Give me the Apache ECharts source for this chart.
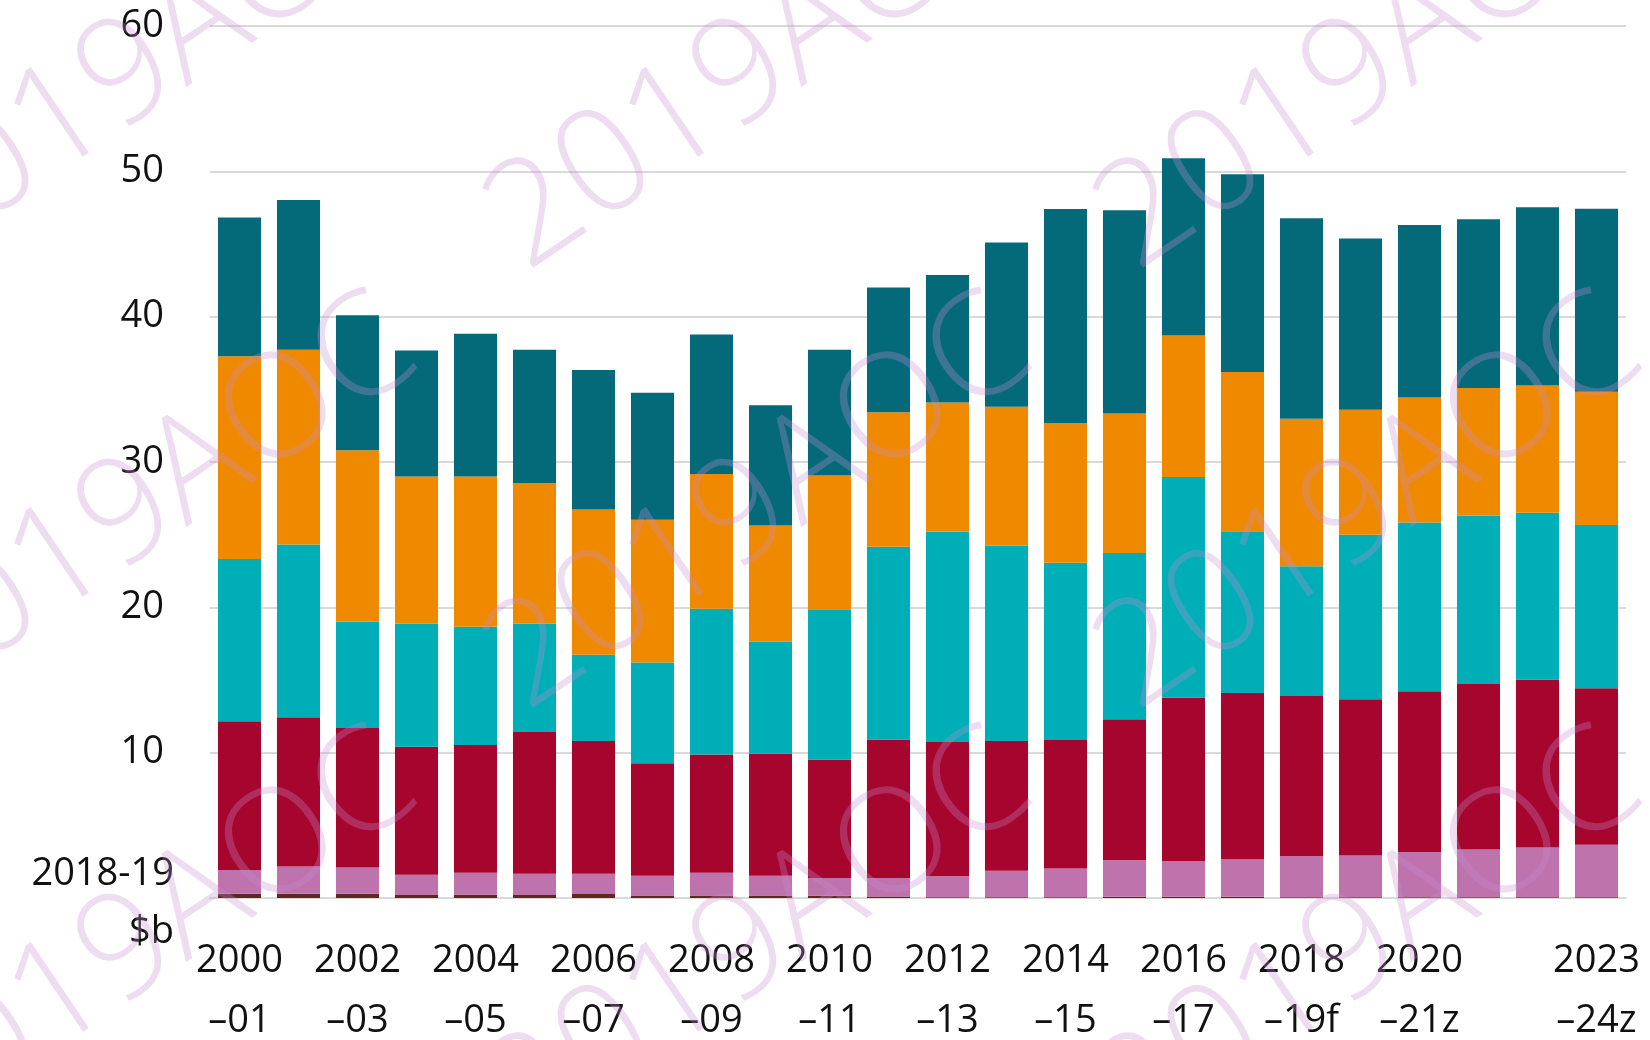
<!DOCTYPE html>
<html>
<head>
<meta charset="utf-8">
<script src="https://cdn.jsdelivr.net/npm/echarts@6/dist/echarts.min.js"></script>
<style>
  html, body { margin: 0; padding: 0; background: #fff; }
  #chart { width: 1650px; height: 1040px; }
</style>
</head>
<body>
<div id="chart"></div>
<script>
// financial years, 2000-01 to 2023-24 (f = forecast, z = projection)
const categories = [
  '2000\n–01', '2001\n–02', '2002\n–03', '2003\n–04', '2004\n–05', '2005\n–06',
  '2006\n–07', '2007\n–08', '2008\n–09', '2009\n–10', '2010\n–11', '2011\n–12',
  '2012\n–13', '2013\n–14', '2014\n–15', '2015\n–16', '2016\n–17', '2017\n–18',
  '2018\n–19f', '2019\n–20', '2020\n–21z', '2021\n–22z', '2022\n–23z', '2023\n–24z'
]

// $b, 2018-19 prices, stacked bottom to top
const brownData = [0.3, 0.3, 0.3, 0.2, 0.22, 0.2, 0.28, 0.18, 0.18, 0.18, 0.15, 0.1,
  0.05, 0.05, 0.05, 0.08, 0.08, 0.08, 0.06, 0.06, 0.06, 0.06, 0.06, 0.06]
const pinkData = [1.63, 1.87, 1.8, 1.4, 1.51, 1.47, 1.39, 1.35, 1.55, 1.35, 1.22, 1.27,
  1.45, 1.82, 1.98, 2.52, 2.45, 2.59, 2.81, 2.87, 3.11, 3.27, 3.41, 3.61]
const redData = [10.24, 10.26, 9.6, 8.8, 8.8, 9.76, 9.13, 7.74, 8.14, 8.4, 8.16, 9.53,
  9.23, 8.93, 8.84, 9.7, 11.27, 11.43, 11.03, 10.74, 11.06, 11.4, 11.56, 10.76]
const tealData = [11.16, 11.9, 7.3, 8.47, 8.14, 7.44, 5.93, 6.93, 10.03, 7.7, 10.34, 13.27,
  14.47, 13.43, 12.2, 11.43, 15.17, 11.13, 8.93, 11.33, 11.6, 11.57, 11.47, 11.24]
const orangeData = [13.94, 13.4, 11.8, 10.13, 10.33, 9.66, 10.0, 9.83, 9.27, 8.0, 9.2, 9.26,
  8.9, 9.57, 9.6, 9.6, 9.73, 10.97, 10.14, 8.6, 8.6, 8.8, 8.77, 9.16]
const darkTealData = [9.56, 10.3, 9.3, 8.67, 9.83, 9.2, 9.6, 8.74, 9.6, 8.27, 8.66, 8.57,
  8.77, 11.3, 14.73, 14.0, 12.2, 13.6, 13.8, 11.77, 11.87, 11.6, 12.26, 12.6]

const yTicks = [0, 10, 20, 30, 40, 50, 60]

const FONT = '"Open Sans", "Liberation Sans", sans-serif'

const chart = echarts.init(document.getElementById('chart'))

function barSeries(name, data, color) {
  return {
    name: name,
    type: 'bar',
    stack: 'total',
    data: data,
    barCategoryGap: '27%',
    itemStyle: { color: color },
    emphasis: { disabled: true }
  }
}

// watermark tiles
const marks = []
const markX = [145, 760, 1370]
const markY = [65, 505, 940]
markY.forEach(function (y) {
  markX.forEach(function (x) {
    marks.push({
      type: 'text',
      x: x,
      y: y,
      rotation: 34 * Math.PI / 180,
      silent: true,
      z: 100,
      style: {
        text: '2019AOC',
        font: '300 145px ' + FONT,
        fill: 'rgba(200, 140, 210, 0.3)',
        textAlign: 'center',
        textVerticalAlign: 'middle'
      }
    })
  })
})

chart.setOption({
  animation: false,
  grid: {
    left: 210,
    right: 24,
    top: 26,
    bottom: 142,
    containLabel: false,
    outerBoundsMode: 'none'
  },
  xAxis: {
    type: 'category',
    data: categories,
    axisTick: { show: false },
    axisLine: { lineStyle: { color: '#d9d9d9', width: 2 } },
    axisLabel: {
      interval: function (i) {
        return (i % 2 === 0 && i < 22) || i === 23
      },
      margin: 33,
      fontFamily: FONT,
      fontWeight: 400,
      fontSize: 38,
      lineHeight: 60,
      color: '#111'
    }
  },
  yAxis: {
    type: 'value',
    min: yTicks[0],
    max: yTicks[yTicks.length - 1],
    interval: 10,
    axisLine: { show: false },
    axisTick: { show: false },
    splitLine: { lineStyle: { color: '#d9d9d9', width: 2 } },
    axisLabel: {
      margin: 46,
      fontFamily: FONT,
      fontWeight: 400,
      fontSize: 38,
      color: '#111',
      formatter: function (v) { return v === 0 ? '' : String(v) }
    }
  },
  graphic: [
    {
      type: 'text', x: 174, y: 874, silent: true,
      style: { text: '2018-19', font: '400 38px ' + FONT, fill: '#111', textAlign: 'right', textVerticalAlign: 'middle' }
    },
    {
      type: 'text', x: 174, y: 932, silent: true,
      style: { text: '$b', font: '400 38px ' + FONT, fill: '#111', textAlign: 'right', textVerticalAlign: 'middle' }
    }
  ].concat(marks),
  series: [
    barSeries('Brown', brownData, '#5a2a1e'),
    barSeries('Pink', pinkData, '#be73ad'),
    barSeries('Red', redData, '#a6062e'),
    barSeries('Teal', tealData, '#00aeb7'),
    barSeries('Orange', orangeData, '#ef8a00'),
    barSeries('Dark teal', darkTealData, '#046a7a')
  ]
})
</script>
</body>
</html>
